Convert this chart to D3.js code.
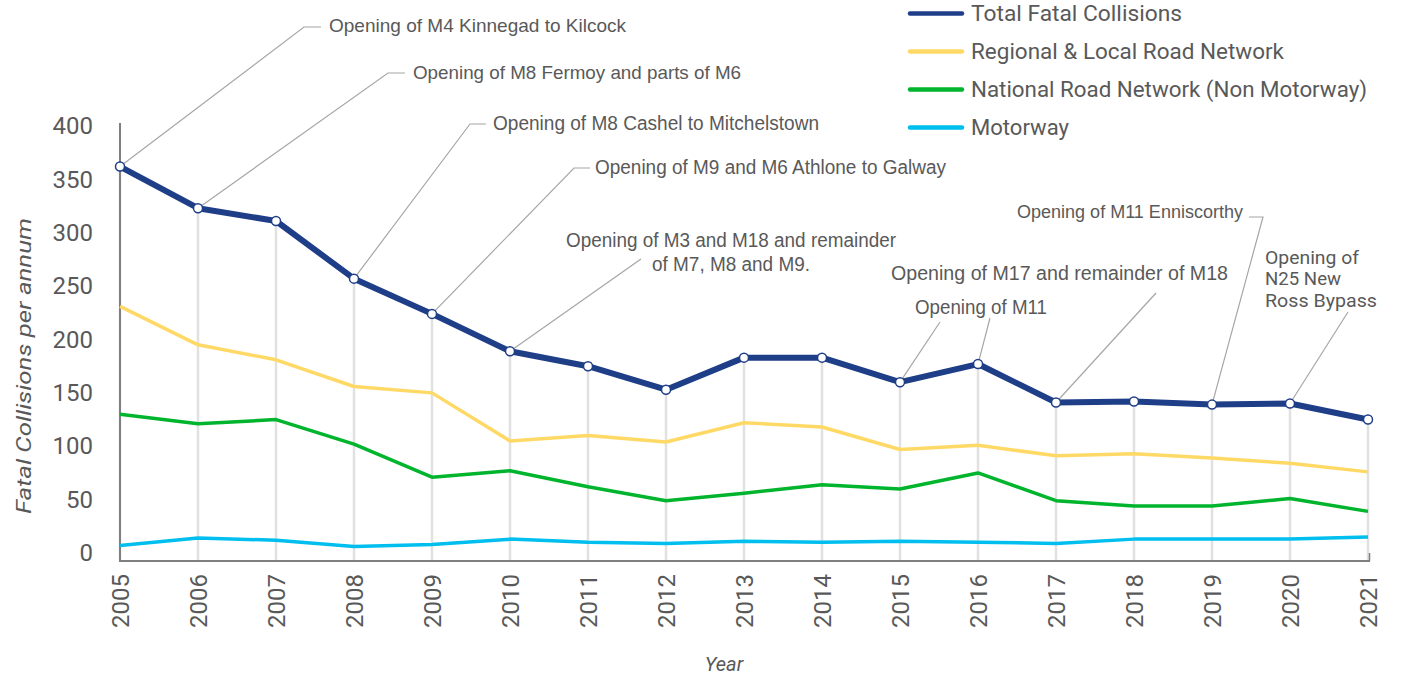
<!DOCTYPE html>
<html>
<head>
<meta charset="utf-8">
<script src="https://cdn.jsdelivr.net/npm/d3@7/dist/d3.min.js"></script>
<style>
  html, body { margin: 0; padding: 0; background: #ffffff; }
  svg { display: block; }
</style>
</head>
<body>
<svg id="chart" width="1402" height="678"></svg>
<script>
// Fatal collisions per annum by road type, 2005-2021
const years = [2005, 2006, 2007, 2008, 2009, 2010, 2011, 2012, 2013, 2014, 2015, 2016, 2017, 2018, 2019, 2020, 2021];
const totalFatal          = [362, 323, 311, 257, 224, 189, 175, 153, 183, 183, 160, 177, 141, 142, 139, 140, 125];
const regionalLocal       = [231, 195, 181, 156, 150, 105, 110, 104, 122, 118, 97, 101, 91, 93, 89, 84, 76];
const nationalNonMotorway = [130, 121, 125, 102, 71, 77, 62, 49, 56, 64, 60, 75, 49, 44, 44, 51, 39];
const motorway            = [7, 14, 12, 6, 8, 13, 10, 9, 11, 10, 11, 10, 9, 13, 13, 13, 15];
const yTicks = [0, 50, 100, 150, 200, 250, 300, 350, 400];
const seriesNames = ["Total Fatal Collisions", "Regional & Local Road Network", "National Road Network (Non Motorway)", "Motorway"];

const series = [
  { name: seriesNames[0], values: totalFatal,          color: "#1f3e88", width: 6 },
  { name: seriesNames[1], values: regionalLocal,       color: "#ffd966", width: 3.5 },
  { name: seriesNames[2], values: nationalNonMotorway, color: "#00b52d", width: 3.5 },
  { name: seriesNames[3], values: motorway,            color: "#00bfee", width: 3.5 }
];

// Road-opening notes attached to points of the total series
const notes = [
  { year: 2005, lines: ["Opening of M4 Kinnegad to Kilcock"], x: 329, y: [25], len: [297], size: 19, anchor: "start", via: [[304, 27], [321, 27]] },
  { year: 2006, lines: ["Opening of M8 Fermoy and parts of M6"], x: 413, y: [72], len: [328], size: 19, anchor: "start", via: [[388, 73], [405, 73]] },
  { year: 2008, lines: ["Opening of M8 Cashel to Mitchelstown"], x: 493, y: [123], len: [326], size: 20, anchor: "start", via: [[470, 124], [486, 124]] },
  { year: 2009, lines: ["Opening of M9 and M6 Athlone to Galway"], x: 595, y: [167], len: [351], size: 20, anchor: "start", via: [[574, 168], [590, 168]] },
  { year: 2010, lines: ["Opening of M3 and M18 and remainder", "of M7, M8 and M9."], x: 731, y: [240, 264], len: [330, 158], size: 20, anchor: "middle", via: [[641, 259]] },
  { year: 2015, lines: ["Opening of M11"], x: 915, y: [307], len: [132], size: 20, anchor: "start", via: [[940, 322]] },
  { year: 2016, lines: [], via: [[990, 318]] },
  { year: 2017, lines: ["Opening of M17 and remainder of M18"], x: 891, y: [273], len: [337], size: 20, anchor: "start", via: [[1156, 293]] },
  { year: 2019, lines: ["Opening of M11 Enniscorthy"], x: 1243, y: [212], len: [226], size: 17.5, anchor: "end", via: [[1263, 217], [1249, 217]] },
  { year: 2020, lines: ["Opening of", "N25 New", "Ross Bypass"], x: 1265, y: [257, 278, 300], len: [94, 76, 112], size: 19, anchor: "start", via: [[1348, 312]], alt: true }
];

const svg = d3.select("#chart");
const textColor = "#595959";
const axisColor = "#7f7f7f";
const baseY = 561;

const x = d3.scalePoint().domain(years).range([120, 1368]);
const y = d3.scaleLinear().domain([0, 400]).range([553, 126]);

// Drop lines from each total point down to the axis
svg.append("g").selectAll("line")
  .data(years)
  .join("line")
  .attr("x1", d => x(d)).attr("x2", d => x(d))
  .attr("y1", (d, i) => y(totalFatal[i])).attr("y2", baseY)
  .attr("stroke", "#e1e1e1").attr("stroke-width", 2.5);

// Leader lines for the notes
const noteG = svg.append("g");
notes.forEach(n => {
  const i = years.indexOf(n.year);
  const pts = [[x(n.year), y(totalFatal[i])]].concat(n.via);
  noteG.append("path")
    .attr("d", d3.line()(pts))
    .attr("fill", "none")
    .attr("stroke", "#a6a6a6")
    .attr("stroke-width", 1.2);
  n.lines.forEach((t, k) => {
    noteG.append("text")
      .attr("x", n.x).attr("y", n.y[k]).attr("dy", "0.35em")
      .attr("text-anchor", n.anchor)
      .attr("textLength", n.len[k]).attr("lengthAdjust", "spacingAndGlyphs")
      .attr("font-family", n.alt ? "Roboto, 'Noto Sans', sans-serif" : "'Liberation Sans', Arial, sans-serif")
      .attr("font-size", n.size)
      .attr("fill", textColor)
      .text(t);
  });
});

// Y axis
const yAxis = svg.append("g")
  .attr("transform", "translate(120,0)")
  .call(d3.axisLeft(y).tickValues(yTicks).tickSize(0).tickPadding(27));
yAxis.select(".domain").remove();
yAxis.selectAll("text")
  .attr("font-family", "Roboto, 'Noto Sans', sans-serif")
  .attr("font-size", 24)
  .attr("fill", textColor);
svg.append("line")
  .attr("x1", 120).attr("x2", 120).attr("y1", 123).attr("y2", baseY)
  .attr("stroke", axisColor).attr("stroke-width", 2);

// X axis
const xAxis = svg.append("g")
  .attr("transform", `translate(0,${baseY})`)
  .call(d3.axisBottom(x).tickSize(0).tickFormat(d3.format("d")));
xAxis.select(".domain").remove();
xAxis.selectAll("text")
  .attr("font-family", "Roboto, 'Noto Sans', sans-serif")
  .attr("font-size", 24)
  .attr("fill", textColor)
  .attr("text-anchor", "end")
  .attr("dy", "0.35em")
  .attr("transform", "translate(0,13) rotate(-90)")
  .attr("x", 0).attr("y", 0);
svg.append("line")
  .attr("x1", 119).attr("x2", 1370).attr("y1", baseY).attr("y2", baseY)
  .attr("stroke", axisColor).attr("stroke-width", 2);
svg.append("line")
  .attr("x1", 1369.5).attr("x2", 1369.5).attr("y1", baseY - 8).attr("y2", baseY)
  .attr("stroke", axisColor).attr("stroke-width", 1.5);

// Series lines, drawn bottom-up so the total sits on top
const line = d3.line().x((d, i) => x(years[i])).y(d => y(d));
svg.append("g").selectAll("path")
  .data(series.slice().reverse())
  .join("path")
  .attr("d", d => line(d.values))
  .attr("fill", "none")
  .attr("stroke", d => d.color)
  .attr("stroke-width", d => d.width)
  .attr("stroke-linejoin", "round");

// Markers on the total series
svg.append("g").selectAll("circle")
  .data(totalFatal)
  .join("circle")
  .attr("cx", (d, i) => x(years[i]))
  .attr("cy", d => y(d))
  .attr("r", 4.5)
  .attr("fill", "#ffffff")
  .attr("stroke", "#1f3e88")
  .attr("stroke-width", 1.5);

// Legend
const legendRows = [13.5, 51.5, 89.5, 127.5];
const legendLen = [211, 313, 396, 98];
const legend = svg.append("g");
series.forEach((s, i) => {
  legend.append("line")
    .attr("x1", 910).attr("x2", 962)
    .attr("y1", legendRows[i]).attr("y2", legendRows[i])
    .attr("stroke", s.color).attr("stroke-width", 4.5)
    .attr("stroke-linecap", "round");
  legend.append("text")
    .attr("x", 971).attr("y", legendRows[i]).attr("dy", "0.35em")
    .attr("textLength", legendLen[i]).attr("lengthAdjust", "spacingAndGlyphs")
    .attr("font-family", "Roboto, 'Noto Sans', sans-serif")
    .attr("font-size", 22)
    .attr("fill", textColor)
    .text(s.name);
});

// Axis titles
svg.append("text")
  .attr("transform", "translate(24,366) rotate(-90)")
  .attr("text-anchor", "middle").attr("dy", "0.35em")
  .attr("textLength", 296).attr("lengthAdjust", "spacingAndGlyphs")
  .attr("font-family", "Roboto, 'Noto Sans', sans-serif")
  .attr("font-style", "italic")
  .attr("font-size", 21)
  .attr("fill", textColor)
  .text("Fatal Collisions per annum");

svg.append("text")
  .attr("x", 724).attr("y", 664).attr("dy", "0.35em")
  .attr("text-anchor", "middle")
  .attr("font-family", "Roboto, 'Noto Sans', sans-serif")
  .attr("font-style", "italic")
  .attr("font-size", 20)
  .attr("fill", textColor)
  .text("Year");
</script>
</body>
</html>
